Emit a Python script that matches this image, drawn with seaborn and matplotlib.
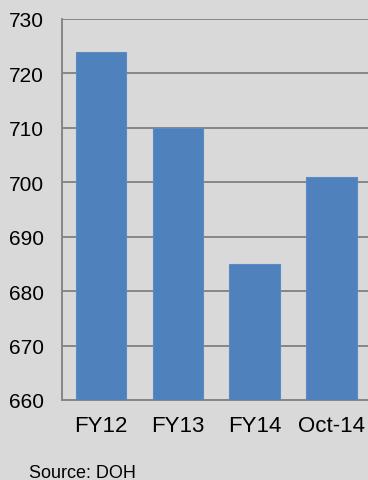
import matplotlib
matplotlib.use("Agg")
import matplotlib.pyplot as plt
import seaborn as sns
import pandas as pd

categories = ["FY12", "FY13", "FY14", "Oct-14"]
values = [724, 710, 685, 701]
yticks = [660, 670, 680, 690, 700, 710, 720, 730]

sns.set_theme(style="white")
plt.rcParams['font.family'] = ['Liberation Sans', 'DejaVu Sans']

bg = "#D9D9D9"
fig = plt.figure(figsize=(3.68, 4.81), dpi=100, facecolor=bg)
ax = fig.add_axes([62/368, 1 - 401/481, (368 - 62)/368, (401 - 20)/481])
ax.set_facecolor(bg)

df = pd.DataFrame({"cat": categories, "val": values})
sns.barplot(data=df, x="cat", y="val", color="#4F81BD", saturation=1,
            width=0.66, ax=ax, zorder=3, edgecolor="#5B8BC4", linewidth=0.8)

ax.set_ylim(660, 730)
ax.set_xlim(-0.506, 3.47)
ax.set_yticks(yticks)
ax.set_yticklabels([str(t) for t in yticks])
ax.grid(axis="y", color="#868686", linewidth=1.4, zorder=0)
ax.set_axisbelow(True)
for s in ["top", "right"]:
    ax.spines[s].set_visible(False)
for s in ["left", "bottom"]:
    ax.spines[s].set_color("#868686")
    ax.spines[s].set_linewidth(1.4)
ax.tick_params(axis="y", length=0, pad=13, labelsize=15, colors="black")
ax.tick_params(axis="x", length=0, pad=11, labelsize=16, colors="black")
ax.set_xlabel("")
ax.set_ylabel("")

fig.text(29/368, 3/481, "Source: DOH", fontsize=13, color="black",
         ha="left", va="baseline")

fig.savefig("out.png", dpi=100, facecolor=bg)
